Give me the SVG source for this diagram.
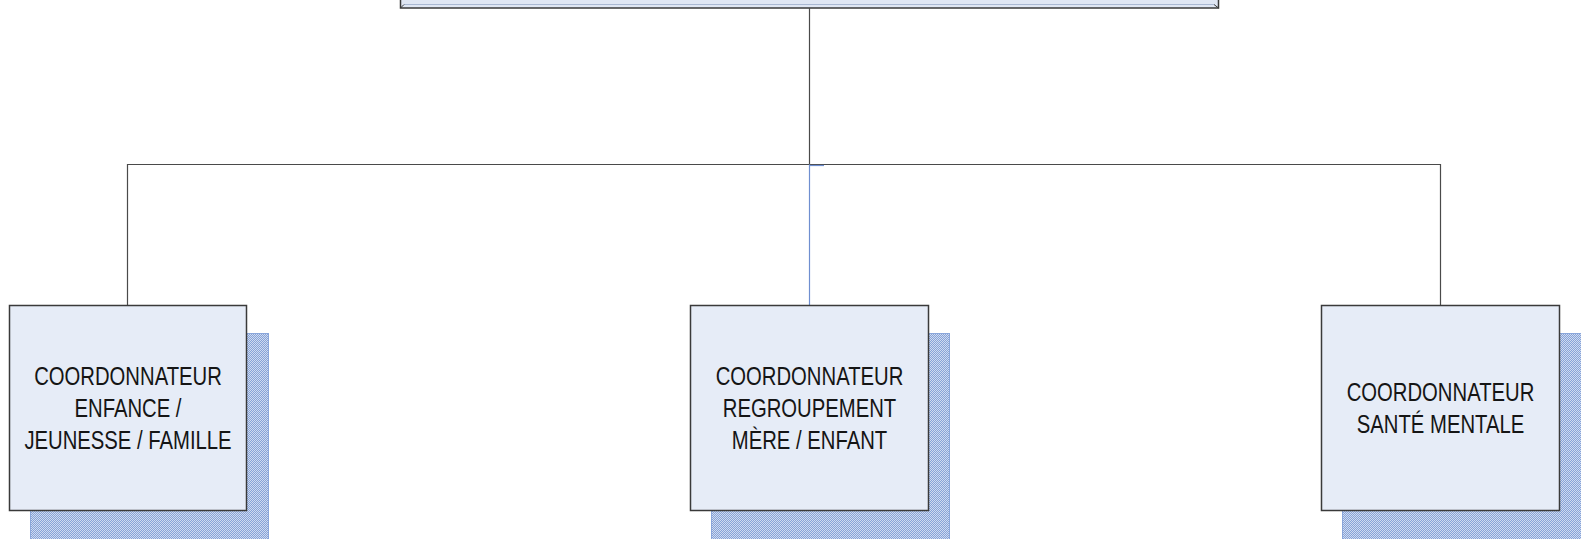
<svg xmlns="http://www.w3.org/2000/svg" width="1581" height="539" viewBox="0 0 1581 539">
  <defs>
    <pattern id="dots" width="2" height="2" patternUnits="userSpaceOnUse">
      <rect width="2" height="2" fill="#86a3d8"/>
      <rect x="0" y="0" width="1" height="1" fill="#cfdaf0"/>
      <rect x="1" y="1" width="1" height="1" fill="#cfdaf0"/>
    </pattern>
  </defs>
  <style>
    .box { fill: #e6ecf7; stroke: #3a3a3a; stroke-width: 1.5; }
    .shadow { fill: url(#dots); stroke: #8aa6da; stroke-width: 1; }
    .lbl { font-family: "Liberation Sans", Arial, sans-serif; font-size: 26px; fill: #151515; text-anchor: middle; }
    .wire { fill: none; stroke: #4a4a4a; stroke-width: 1.2; }
    .wire-blue { fill: none; stroke: #6f8fd0; stroke-width: 1.2; }
  </style>
  <rect width="1581" height="539" fill="#ffffff"/>

  <!-- top box, mostly above the frame -->
  <g id="top">
    <rect x="400.5" y="-60" width="818" height="68" fill="#dfe6f3" stroke="#3a3a3a" stroke-width="1.5"/>
    <path d="M404 4.5 H1214" stroke="#a9b8d2" stroke-width="1.2" fill="none"/>
    <path d="M400.5 8 L404 4.5" stroke="#3a3a3a" stroke-width="1" fill="none"/>
    <path d="M1218.5 8 L1214 4.5" stroke="#3a3a3a" stroke-width="1" fill="none"/>
  </g>

  <!-- connectors -->
  <g id="connectors">
    <path class="wire" d="M809.5 8 V164.5"/>
    <path class="wire" d="M127.5 305 V164.5 H1440.5 V305"/>
    <path class="wire-blue" d="M809.5 164.5 V305"/>
    <path class="wire-blue" d="M809.5 165.5 H824"/>
  </g>

  <g id="node-enfance">
    <rect class="shadow" x="30.5" y="333.5" width="238" height="220"/>
    <rect class="box" x="9.5" y="305.5" width="237" height="205"/>
    <text class="lbl" transform="translate(128,385) scale(0.78,1)">COORDONNATEUR</text>
    <text class="lbl" transform="translate(128,417) scale(0.78,1)">ENFANCE /</text>
    <text class="lbl" transform="translate(128,449) scale(0.78,1)">JEUNESSE / FAMILLE</text>
  </g>

  <g id="node-mere-enfant">
    <rect class="shadow" x="711.5" y="333.5" width="238" height="220"/>
    <rect class="box" x="690.5" y="305.5" width="238" height="205"/>
    <text class="lbl" transform="translate(809.5,385) scale(0.78,1)">COORDONNATEUR</text>
    <text class="lbl" transform="translate(809.5,417) scale(0.78,1)">REGROUPEMENT</text>
    <text class="lbl" transform="translate(809.5,449) scale(0.78,1)">MÈRE / ENFANT</text>
  </g>

  <g id="node-sante-mentale">
    <rect class="shadow" x="1342.5" y="333.5" width="240" height="220"/>
    <rect class="box" x="1321.5" y="305.5" width="238" height="205"/>
    <text class="lbl" transform="translate(1440.5,401) scale(0.78,1)">COORDONNATEUR</text>
    <text class="lbl" transform="translate(1440.5,433) scale(0.78,1)">SANTÉ MENTALE</text>
  </g>
</svg>
